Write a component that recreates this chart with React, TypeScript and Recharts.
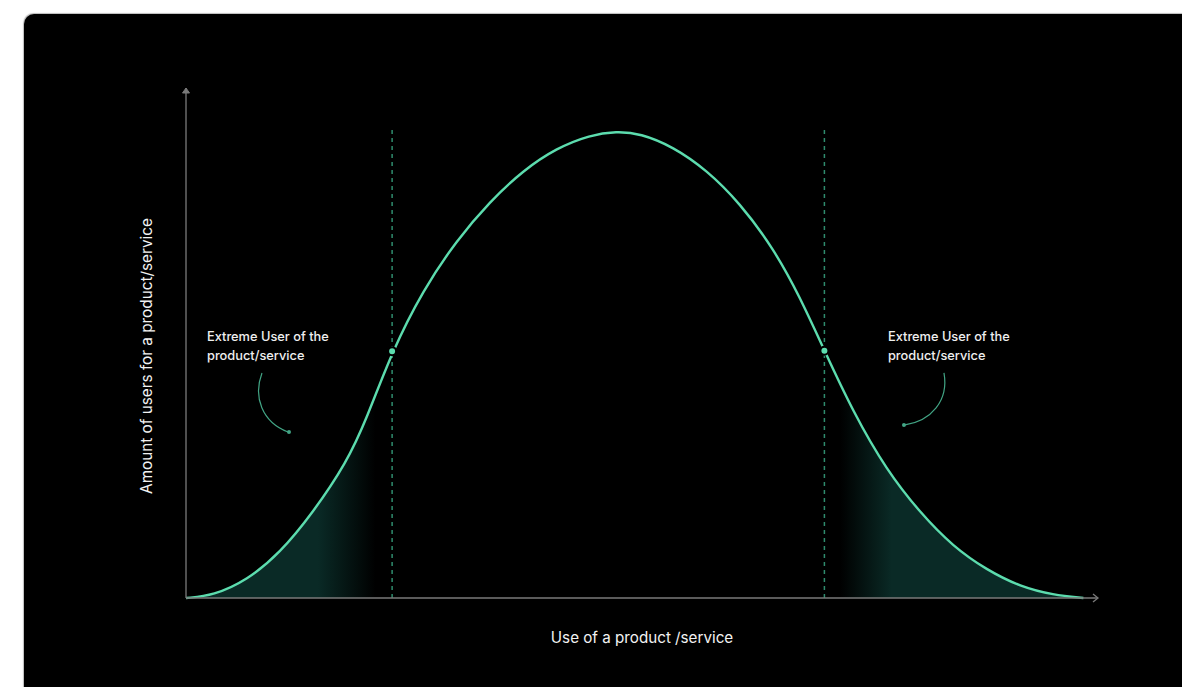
import React from 'react';
import {
  ComposedChart,
  Line,
  Area,
  XAxis,
  YAxis,
  ReferenceLine,
  ReferenceDot,
} from 'recharts';

// Horizontal: use of a product/service (0-100), vertical: amount of users (0-100)
const usage = [0, 3.0, 6.7, 10.3, 13.9, 17.6, 19.8, 22.6, 26.0, 29.7, 33.3, 37.0, 40.6, 44.3, 47.2, 49.8, 53.4, 57.1, 60.7, 64.4, 67.3, 70.0, 73.2, 76.8, 80.5, 84.1, 87.8, 91.5, 95.1, 98.4];
const users = [0, 0.5, 3.5, 8.8, 16.7, 26.5, 35.1, 48.4, 60.4, 70.2, 77.7, 83.9, 88.2, 90.8, 91.5, 91.1, 88.5, 83.9, 77.5, 68.6, 59.1, 48.5, 36.3, 25.1, 16.7, 10.1, 5.5, 2.2, 0.6, 0];

// Extreme user thresholds (index into the arrays above)
const leftCutIndex = 7;
const rightCutIndex = 21;
const cutLineTop = 91.8;

const xAxisLabel = 'Use of a product /service';
const yAxisLabel = 'Amount of users for a product/service';
const annotationLines = ['Extreme User of the', 'product/service'];
const annotationAnchors = [
  { x: 2.3, y: 50.4, side: 'left' },
  { x: 76.97, y: 50.4, side: 'right' },
];

const LINE = '#5cdcae';
const DASH = '#2f8c6e';
const AXIS = '#7a7a7a';
const TEAL = '#0a2a26';

const leftCut = usage[leftCutIndex];
const rightCut = usage[rightCutIndex];

const data = usage.map((u, i) => ({
  x: u,
  y: users[i],
  left: u <= leftCut ? users[i] : null,
  right: u >= rightCut ? users[i] : null,
}));

const FONT = 'Inter, "Liberation Sans", Arial, sans-serif';

const XLabel = (props: any) => {
  const { viewBox } = props;
  return (
    <text
      x={viewBox.x + viewBox.width / 2}
      y={viewBox.y + 45}
      textAnchor="middle"
      fill="#f2f2f2"
      fontSize={15.2}
      fontFamily={FONT}
    >
      {xAxisLabel}
    </text>
  );
};

const YLabel = (props: any) => {
  const { viewBox } = props;
  const cx = viewBox.x + viewBox.width - 40;
  const cy = viewBox.y + viewBox.height / 2 + 13;
  return (
    <text
      x={cx}
      y={cy}
      transform={`rotate(-90 ${cx} ${cy})`}
      textAnchor="middle"
      dominantBaseline="central"
      fill="#f2f2f2"
      fontSize={15.3}
      fontFamily={FONT}
    >
      {yAxisLabel}
    </text>
  );
};

const Annotation = (side: string) => (props: any) => {
  const { cx, cy } = props;
  const arrowPath =
    side === 'left'
      ? `M${cx + 55},${cy + 32} C${cx + 46},${cy + 56} ${cx + 55},${cy + 81} ${cx + 81},${cy + 91}`
      : `M${cx + 56},${cy + 32} C${cx + 61},${cy + 60} ${cx + 43},${cy + 80} ${cx + 17},${cy + 84}`;
  const tip = side === 'left' ? { x: cx + 82, y: cy + 91 } : { x: cx + 16, y: cy + 84 };
  return (
    <g>
      {annotationLines.map((t, i) => (
        <text
          key={i}
          x={cx}
          y={cy + i * 19}
          fill="#efefef"
          fontSize={12.8}
          fontWeight={500}
          fontFamily={FONT}
        >
          {t}
        </text>
      ))}
      <path d={arrowPath} fill="none" stroke="#42a585" strokeWidth={1.2} />
      <circle cx={tip.x} cy={tip.y} r={2} fill="#42a585" />
    </g>
  );
};

const XArrow = (props: any) => {
  const { cx, cy } = props;
  return (
    <path
      d={`M${cx - 5},${cy - 4} L${cx},${cy} L${cx - 5},${cy + 4}`}
      fill="none"
      stroke={AXIS}
      strokeWidth={1.3}
    />
  );
};

const YArrow = (props: any) => {
  const { cx, cy } = props;
  return (
    <path
      d={`M${cx - 3.5},${cy + 5} L${cx},${cy} L${cx + 3.5},${cy + 5} Z`}
      fill={AXIS}
      stroke={AXIS}
      strokeWidth={1}
    />
  );
};

export default function App() {
  return (
    <div
      style={{
        position: 'fixed',
        left: 0,
        top: 0,
        width: 1182,
        height: 687,
        background: '#ffffff',
        overflow: 'hidden',
        fontFamily: FONT,
      }}
    >
      <div
        style={{
          position: 'absolute',
          left: 24,
          top: 14,
          width: 1200,
          height: 720,
          background: '#000',
          borderRadius: 10,
          boxShadow: '0 0 1px 0.5px #bbb',
        }}
      />
      <div style={{ position: 'absolute', left: 0, top: 0 }}>
        <ComposedChart
          width={1182}
          height={687}
          data={data}
          margin={{ top: 88, right: 84, bottom: 59, left: 156 }}
        >
          <defs>
            <linearGradient id="leftFade" x1="0" y1="0" x2="1" y2="0">
              <stop offset="0%" stopColor={TEAL} stopOpacity={1} />
              <stop offset="64%" stopColor={TEAL} stopOpacity={1} />
              <stop offset="92%" stopColor="#000" stopOpacity={1} />
              <stop offset="100%" stopColor="#000" stopOpacity={1} />
            </linearGradient>
            <linearGradient id="rightFade" x1="0" y1="0" x2="1" y2="0">
              <stop offset="0%" stopColor="#000" stopOpacity={1} />
              <stop offset="6%" stopColor="#000" stopOpacity={1} />
              <stop offset="26%" stopColor={TEAL} stopOpacity={1} />
              <stop offset="100%" stopColor={TEAL} stopOpacity={1} />
            </linearGradient>
          </defs>
          <XAxis
            dataKey="x"
            type="number"
            domain={[0, 100]}
            height={30}
            tick={false}
            tickLine={false}
            axisLine={{ stroke: AXIS, strokeWidth: 1.3 }}
            label={{ content: XLabel }}
          />
          <YAxis
            type="number"
            domain={[0, 100]}
            width={30}
            tick={false}
            tickLine={false}
            axisLine={{ stroke: AXIS, strokeWidth: 1.3 }}
            label={{ content: YLabel }}
          />
          <Area
            dataKey="left"
            type="basis"
            fill="url(#leftFade)"
            fillOpacity={1}
            stroke="none"
            isAnimationActive={false}
            connectNulls={false}
            dot={false}
            activeDot={false}
          />
          <Area
            dataKey="right"
            type="basis"
            fill="url(#rightFade)"
            fillOpacity={1}
            stroke="none"
            isAnimationActive={false}
            connectNulls={false}
            dot={false}
            activeDot={false}
          />
          <ReferenceLine
            segment={[{ x: leftCut, y: 0 }, { x: leftCut, y: cutLineTop }]}
            stroke={DASH}
            strokeWidth={1.5}
            strokeDasharray="4 4"
          />
          <ReferenceLine
            segment={[{ x: rightCut, y: 0 }, { x: rightCut, y: cutLineTop }]}
            stroke={DASH}
            strokeWidth={1.5}
            strokeDasharray="4 4"
          />
          <Line
            dataKey="y"
            type="basis"
            stroke={LINE}
            strokeWidth={2.4}
            dot={false}
            activeDot={false}
            isAnimationActive={false}
          />
          <ReferenceDot
            x={leftCut}
            y={users[leftCutIndex]}
            r={4}
            fill={LINE}
            stroke="#000"
            strokeWidth={2}
          />
          <ReferenceDot
            x={rightCut}
            y={users[rightCutIndex]}
            r={4}
            fill={LINE}
            stroke="#000"
            strokeWidth={2}
          />
          <ReferenceDot x={100} y={0} shape={XArrow} />
          <ReferenceDot x={0} y={100} shape={YArrow} />
          {annotationAnchors.map((a, i) => (
            <ReferenceDot key={i} x={a.x} y={a.y} shape={Annotation(a.side)} />
          ))}
        </ComposedChart>
      </div>
    </div>
  );
}
